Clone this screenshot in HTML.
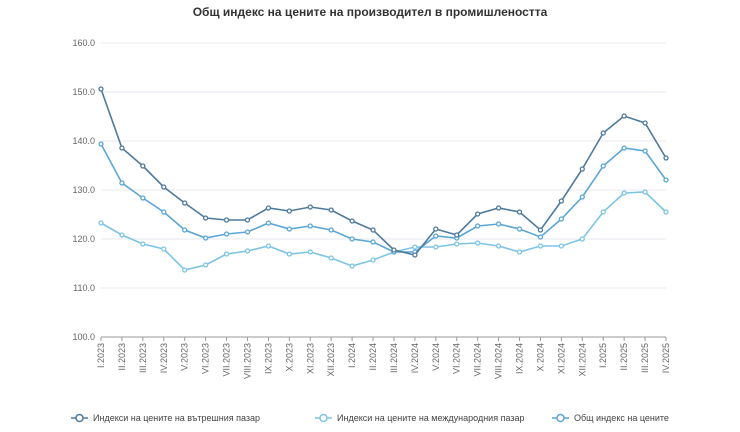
<!DOCTYPE html>
<html><head><meta charset="utf-8"><style>
body{margin:0;background:#fff;width:740px;height:427px;overflow:hidden;font-family:"Liberation Sans",sans-serif}
</style></head><body>
<svg width="740" height="427" xmlns="http://www.w3.org/2000/svg" font-family="Liberation Sans, sans-serif">
<text x="370" y="16" text-anchor="middle" font-size="12" font-weight="bold" fill="#333">Общ индекс на цените на производител в промишлеността</text>
<g stroke="#e6e9f2" stroke-width="1">
<line x1="101" y1="43" x2="666" y2="43"/><line x1="101" y1="92" x2="666" y2="92"/><line x1="101" y1="141" x2="666" y2="141"/><line x1="101" y1="190" x2="666" y2="190"/><line x1="101" y1="239" x2="666" y2="239"/><line x1="101" y1="288" x2="666" y2="288"/>
</g>
<line x1="101" y1="337" x2="666" y2="337" stroke="#999" stroke-width="1"/>
<g font-size="9" fill="#666" text-anchor="end">
<text x="95" y="46">160.0</text><text x="95" y="95">150.0</text><text x="95" y="144">140.0</text><text x="95" y="193">130.0</text><text x="95" y="242">120.0</text><text x="95" y="291">110.0</text><text x="95" y="340">100.0</text>
</g>
<g id="xl" font-size="9" fill="#666"></g>
<g id="ser"></g>
<g font-size="9" fill="#444">
<line x1="71" y1="418" x2="88" y2="418" stroke="#4e7a9c" stroke-width="1.5"/><circle cx="79.5" cy="418" r="3.5" fill="#fff" stroke="#4e7a9c" stroke-width="1.5"/>
<text x="93" y="421">Индекси на цените на вътрешния пазар</text>
<line x1="315" y1="418" x2="332" y2="418" stroke="#7cc4e4" stroke-width="1.5"/><circle cx="323.5" cy="418" r="3.5" fill="#fff" stroke="#7cc4e4" stroke-width="1.5"/>
<text x="337" y="421">Индекси на цените на международния пазар</text>
<line x1="552" y1="418" x2="569" y2="418" stroke="#5aa6d6" stroke-width="1.5"/><circle cx="560.5" cy="418" r="3.5" fill="#fff" stroke="#5aa6d6" stroke-width="1.5"/>
<text x="574" y="421">Общ индекс на цените</text>
</g>
</svg>
<script>
const ns="http://www.w3.org/2000/svg";
const labels=["I.2023","II.2023","III.2023","IV.2023","V.2023","VI.2023","VII.2023","VIII.2023","IX.2023","X.2023","XI.2023","XII.2023","I.2024","II.2024","III.2024","IV.2024","V.2024","VI.2024","VII.2024","VIII.2024","IX.2024","X.2024","XI.2024","XII.2024","I.2025","II.2025","III.2025","IV.2025"];
const X=i=>101+i*565/27;
const xl=document.getElementById("xl");
labels.forEach((l,i)=>{
 const t=document.createElementNS(ns,"line");t.setAttribute("x1",X(i));t.setAttribute("x2",X(i));t.setAttribute("y1",337);t.setAttribute("y2",341);t.setAttribute("stroke","#999");xl.appendChild(t);
 const s=document.createElementNS(ns,"text");s.setAttribute("transform",`translate(${X(i)+3},343) rotate(-90)`);s.setAttribute("text-anchor","end");s.textContent=l;xl.appendChild(s);
});
const series=[
 ["#7cc4e4",[223,235,244,249,270,265,254,251,246,254,252,258,266,260,252,247,247,244,243,246,252,246,246,239,212,193,192,212]],
 ["#5aa6d6",[144,183,198,212,230,238,234,232,223,229,226,230,239,242,252,252,236,238,226,224,229,237,219,197,166,148,151,180]],
 ["#4e7a9c",[89,148,166,187,203,218,220,220,208,211,207,210,221,230,250,255,229,235,214,208,212,230,201,169,133,116,123,158]]
];
const g=document.getElementById("ser");
series.forEach(([c,d])=>{
 const p=document.createElementNS(ns,"polyline");
 p.setAttribute("points",d.map((y,i)=>X(i)+","+y).join(" "));
 p.setAttribute("fill","none");p.setAttribute("stroke",c);p.setAttribute("stroke-width","1.6");g.appendChild(p);
 d.forEach((y,i)=>{const ci=document.createElementNS(ns,"circle");ci.setAttribute("cx",X(i));ci.setAttribute("cy",y);ci.setAttribute("r",2);ci.setAttribute("fill","#fff");ci.setAttribute("stroke",c);ci.setAttribute("stroke-width","1.3");g.appendChild(ci);});
});
</script>
</body></html>
